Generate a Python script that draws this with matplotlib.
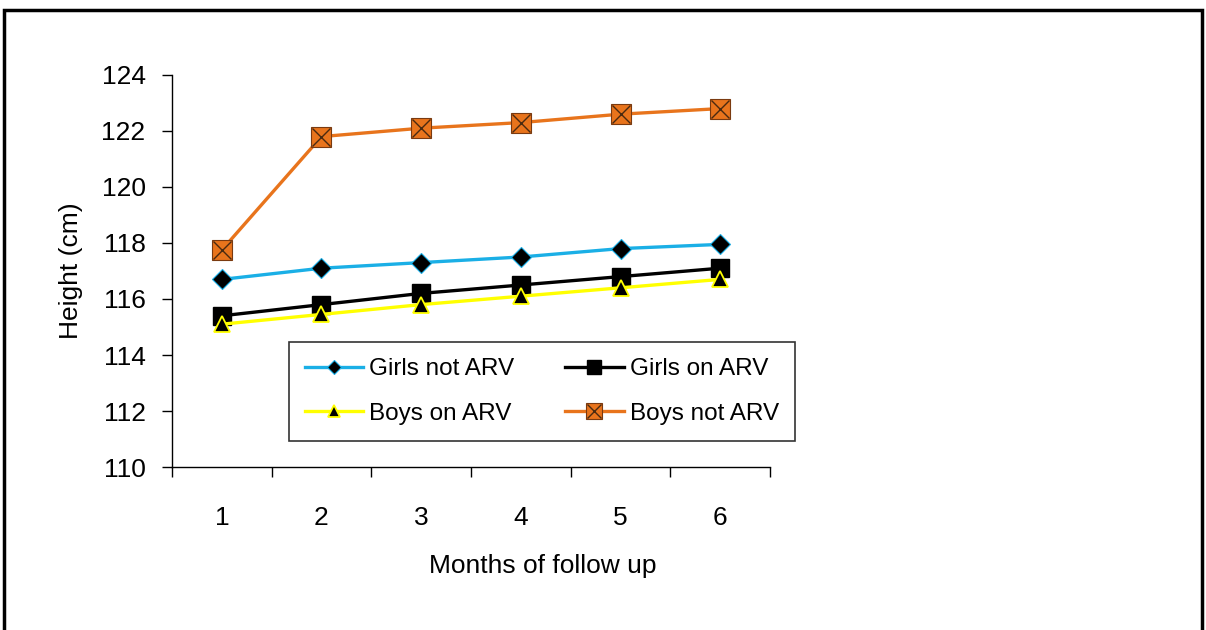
import matplotlib
matplotlib.use("Agg")
import matplotlib.pyplot as plt
from matplotlib.patches import Rectangle
from matplotlib.ticker import FixedLocator

plt.rcParams['font.family'] = ['Liberation Sans', 'DejaVu Sans']

months = [1, 2, 3, 4, 5, 6]
month_labels = ["1", "2", "3", "4", "5", "6"]
girls_not_arv = [116.7, 117.1, 117.3, 117.5, 117.8, 117.95]
girls_on_arv = [115.4, 115.8, 116.2, 116.5, 116.8, 117.1]
boys_on_arv = [115.1, 115.45, 115.8, 116.1, 116.4, 116.7]
boys_not_arv = [117.75, 121.8, 122.1, 122.3, 122.6, 122.8]
y_ticks = [110, 112, 114, 116, 118, 120, 122, 124]

fig = plt.figure(figsize=(12.06, 6.3), dpi=100)
fig.patches.append(Rectangle((0.0035, -0.1), 0.9935, 1.0835, transform=fig.transFigure,
                             fill=False, edgecolor='black', linewidth=2.5))

ax = fig.add_axes([0.1426, 0.2587, 0.4959, 0.6223])

l1, = ax.plot(months, girls_not_arv, color='#1AAFE6', lw=2.4, marker='D', ms=10,
              mfc='black', mec='#1AAFE6', mew=0.8, label='Girls not ARV')
l2, = ax.plot(months, girls_on_arv, color='black', lw=2.4, marker='s', ms=13,
              mfc='black', mec='black', label='Girls on ARV')
l3, = ax.plot(months, boys_on_arv, color='#FFFF00', lw=2.4, marker='^', ms=12,
              mfc='black', mec='#FFFF00', mew=1.3, label='Boys on ARV')
l4, = ax.plot(months, boys_not_arv, color='#E8741C', lw=2.4, marker='s', ms=15,
              mfc='#E8741C', mec='#7A3A10', mew=0.8, label='Boys not ARV')
l4x, = ax.plot(months, boys_not_arv, ls='none', marker='x', ms=13,
               mec='#4A2A10', mew=1.0)

ax.set_xlim(0.5, 6.5)
ax.set_ylim(110, 124)
ax.set_yticks(y_ticks)
ax.set_xticks(months)
ax.set_xticklabels(month_labels)
ax.xaxis.set_minor_locator(FixedLocator([0.5 + i for i in range(7)]))
ax.tick_params(axis='x', which='major', length=0, pad=28, labelsize=19)
ax.tick_params(axis='x', which='minor', length=7, width=1, direction='out')
ax.tick_params(axis='y', length=7, width=1, direction='out', pad=12, labelsize=19)

for s in ['top', 'right']:
    ax.spines[s].set_visible(False)
for s in ['left', 'bottom']:
    ax.spines[s].set_linewidth(1)

ax.set_ylabel('Height (cm)', fontsize=19)
ax.yaxis.set_label_coords(-0.148, 0.5)
ax.set_xlabel('Months of follow up', fontsize=19)
ax.xaxis.set_label_coords(0.62, -0.222)

leg = ax.legend([l1, l3, l2, (l4, l4x)], ['Girls not ARV', 'Boys on ARV', 'Girls on ARV', 'Boys not ARV'],
                ncol=2, loc='upper left', bbox_to_anchor=(0.195, 0.318), borderaxespad=0,
                fancybox=False, edgecolor='black', fontsize=17.5, handlelength=2.4,
                columnspacing=2.1, borderpad=0.66, labelspacing=0.92, markerscale=0.75,
                handletextpad=0.25)
leg.get_frame().set_linewidth(1.2)
leg.set_zorder(5)

fig.savefig('out.png', dpi=100)
